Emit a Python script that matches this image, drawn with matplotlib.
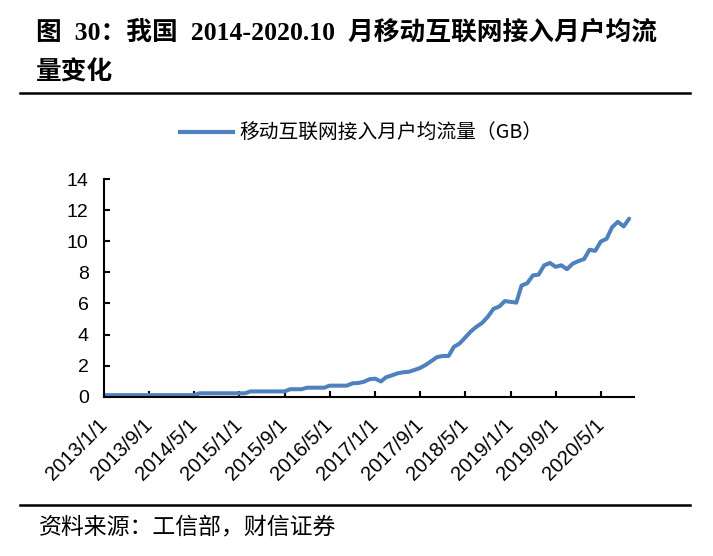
import matplotlib
matplotlib.use("Agg")
import matplotlib.pyplot as plt
import matplotlib.transforms as mtransforms
from matplotlib.lines import Line2D
import pandas as pd

# ---------------- data ----------------
start_month = "2013-01-01"
values = [
    0.10, 0.10, 0.10, 0.10, 0.10, 0.10, 0.10, 0.10, 0.10, 0.10, 0.10, 0.10,   # 2013
    0.10, 0.10, 0.10, 0.10, 0.10, 0.22, 0.22, 0.22, 0.22, 0.22, 0.22, 0.22,   # 2014
    0.22, 0.22, 0.34, 0.34, 0.34, 0.34, 0.34, 0.34, 0.34, 0.48, 0.48, 0.48,   # 2015
    0.58, 0.58, 0.58, 0.58, 0.71, 0.71, 0.71, 0.71, 0.86, 0.88, 0.96, 1.12,   # 2016
    1.16, 0.98, 1.25, 1.37, 1.50, 1.57, 1.60, 1.72, 1.85, 2.05, 2.30, 2.55,   # 2017
    2.62, 2.62, 3.20, 3.42, 3.80, 4.20, 4.50, 4.75, 5.15, 5.65, 5.80, 6.15,   # 2018
    6.10, 6.05, 7.15, 7.30, 7.80, 7.85, 8.45, 8.60, 8.35, 8.45, 8.20, 8.55,   # 2019
    8.72, 8.85, 9.45, 9.38, 9.98, 10.15, 10.90, 11.25, 10.95, 11.45,          # 2020.1-10
]
tick_labels = ["2013/1/1", "2013/9/1", "2014/5/1", "2015/1/1", "2015/9/1",
               "2016/5/1", "2017/1/1", "2017/9/1", "2018/5/1", "2019/1/1",
               "2019/9/1", "2020/5/1"]
y_ticks = [0, 2, 4, 6, 8, 10, 12, 14]
series_name = "移动互联网接入月户均流量（GB）"
title_line1 = "图  30：我国  2014-2020.10  月移动互联网接入月户均流"
title_line2 = "量变化"
source_text = "资料来源：工信部，财信证券"

dates = pd.date_range(start_month, periods=len(values), freq="MS")
tick_dates = pd.to_datetime(tick_labels, format="%Y/%m/%d")

# ---------------- figure ----------------
W, H = 713, 556
fig = plt.figure(figsize=(W / 100, H / 100), dpi=100)

def fx(px):
    return px / W

def fy(py):
    return 1 - py / H

cjk = ["Noto Sans CJK SC", "DejaVu Sans"]
title_fam = ["Liberation Serif", "Noto Sans CJK SC"]
num_fam = ["Liberation Sans", "DejaVu Sans"]
blue = "#4f81bd"

ax = fig.add_axes([fx(104), fy(396.7), fx(634 - 104), (396.7 - 179) / H])
ax.plot(dates, values, color=blue, lw=2.9, solid_capstyle="round",
        solid_joinstyle="round")

ax.set_ylim(0, 14)
ax.set_yticks(y_ticks)
ax.set_xlim(pd.Timestamp("2013-01-01"), pd.Timestamp("2020-10-27"))
ax.set_xticks(tick_dates)
ax.set_xticklabels(tick_labels, rotation=45, ha="right", va="center",
                   rotation_mode="anchor", family=num_fam, fontsize=14.5)
shift = mtransforms.ScaledTranslation(4 / 100, 0, fig.dpi_scale_trans)
for lab in ax.get_xticklabels():
    lab.set_transform(lab.get_transform() + shift)
for lab in ax.get_yticklabels():
    lab.set_family(num_fam)
    lab.set_fontsize(14)

for s in ["top", "right"]:
    ax.spines[s].set_visible(False)
for s in ["left", "bottom"]:
    ax.spines[s].set_linewidth(1.5)
    ax.spines[s].set_color("black")
ax.tick_params(axis="both", direction="in", length=4.5, width=1.5, color="black")
ax.tick_params(axis="x", pad=18)
ax.tick_params(axis="y", pad=11)

# legend
handle = Line2D([], [], color=blue, lw=3)
fig.legend([handle], [series_name], loc="center",
           bbox_to_anchor=(fx(361.5), fy(133)), frameon=False,
           prop={"family": cjk, "size": 14.2}, handlelength=2.65,
           handletextpad=0.35, borderaxespad=0, borderpad=0)

# title
fig.text(fx(36), fy(32), title_line1, family=title_fam, weight="bold",
         fontsize=18.5, ha="left", va="center")
fig.text(fx(36), fy(72), title_line2, family=title_fam, weight="bold",
         fontsize=18.5, ha="left", va="center")

# rules
fig.add_artist(Line2D([fx(20), fx(690)], [fy(93), fy(93)], color="black", lw=1.8))
fig.add_artist(Line2D([fx(20), fx(690)], [fy(505), fy(505)], color="black", lw=1.8))

# source
fig.text(fx(39), fy(527), source_text, family=cjk, fontsize=16.5,
         ha="left", va="center", style="italic")

fig.savefig("out.png", dpi=100)
